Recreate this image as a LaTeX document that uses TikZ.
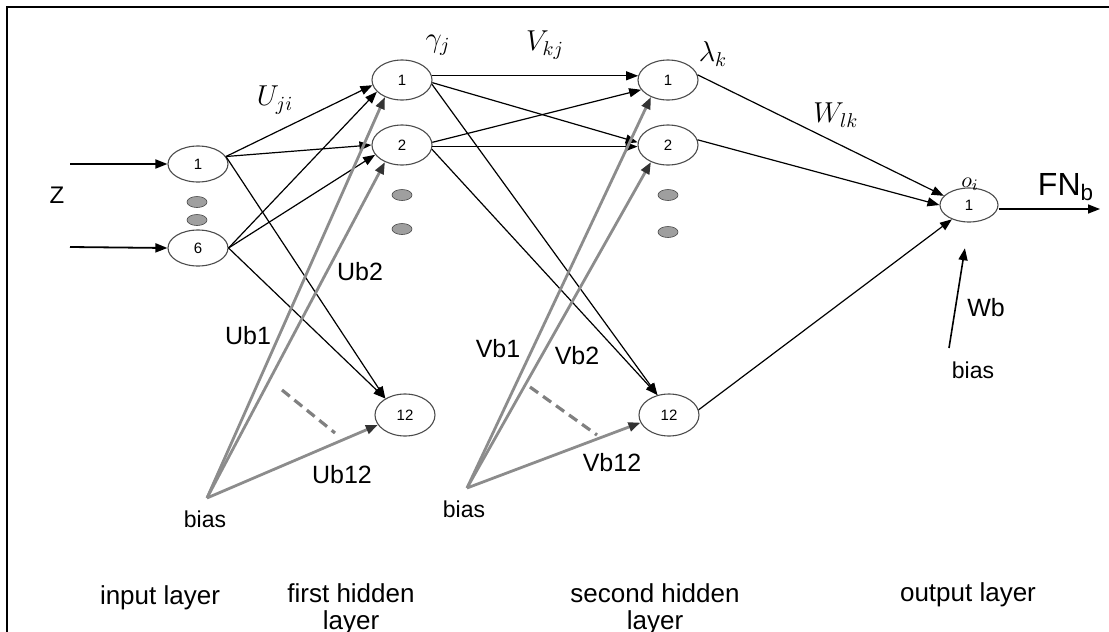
\documentclass[tikz,border=0pt]{standalone}
\usepackage{fontspec}
\setmainfont{Liberation Sans}
\usetikzlibrary{arrows.meta,shapes.geometric,positioning}

\tikzset{
  neuron/.style={ellipse,draw=black!70,line width=0.55pt,minimum width=30pt,minimum height=19pt,inner sep=0pt,font=\fontsize{7.5}{8}\selectfont},
  gapdot/.style={ellipse,fill=gray!75,draw=gray!55!black,line width=0.3pt,minimum width=10pt,minimum height=5.5pt,inner sep=0pt},
  wire/.style={line width=0.6pt,-{Triangle[length=6pt,width=4.5pt]}},
  biaswire/.style={draw=black!45,line width=1.4pt,-{Triangle[length=6pt,width=4.5pt,color=black!80]}},
  blabel/.style={font=\fontsize{12.5}{14}\selectfont},
  layname/.style={font=\fontsize{13}{13.5}\selectfont,align=center},
  sym/.style={font=\fontsize{14}{16}\selectfont}
}

\begin{document}
\begin{tikzpicture}[x=0.5pt,y=-0.5pt]
  \useasboundingbox (0,0) rectangle (1109,632);
  \clip (0,0) rectangle (1109,632);
  \draw[line width=1pt] (7,7) rectangle (1120,645);

  % neurons
  \node[neuron,minimum height=18pt] (in1) at (198,164) {1};
  \node[neuron,minimum height=18pt] (in6) at (198,248) {6};
  \node[neuron,minimum height=20pt] (h1) at (402,80) {1};
  \node[neuron,minimum height=20pt] (h2) at (402,145) {2};
  \node[neuron,minimum height=21pt] (h12) at (405,415) {12};
  \node[neuron,minimum height=20pt] (s1) at (668,80) {1};
  \node[neuron,minimum height=20pt] (s2) at (668,145) {2};
  \node[neuron,minimum height=21pt] (s12) at (669,415) {12};
  \node[neuron,minimum width=29pt,minimum height=17pt] (out) at (969,205) {1};

  % dots between neurons
  \node[gapdot] (din1) at (197,202) {};
  \node[gapdot] (din2) at (197,220) {};
  \node[gapdot] (dh1) at (402,195) {};
  \node[gapdot] (dh2) at (402,229) {};
  \node[gapdot] (ds1) at (668,195) {};
  \node[gapdot] (ds2) at (668,232) {};

  % inputs
  \coordinate (zin1) at (70,164);
  \coordinate (zin6) at (70,247);
  \node[font=\fontsize{12}{14}\selectfont] (zlab) at (57,195) {Z};
  \draw[wire,line width=0.9pt] (zin1) -- (in1.west);
  \draw[wire,line width=0.9pt] (zin6) -- (in6.west);

  % input -> first hidden
  \draw[wire] (in1.15) -- (h1.190);
  \draw[wire] (in1.15) -- (h2.180);
  \draw[wire] (in1.15) -- (h12.140);
  \draw[wire] (in6.east) -- (h1.205);
  \draw[wire] (in6.east) -- (h2.200);
  \draw[wire] (in6.east) -- (h12.140);

  % first hidden -> second hidden
  \draw[wire] (h1.8) -- (s1.172);
  \draw[wire] (h1.-5) -- (s2.175);
  \draw[wire] (h1.-8) -- (s12.120);
  \draw[wire] (h2.5) -- (s1.200);
  \draw[wire] (h2.-3) -- (s2.183);
  \draw[wire] (h2.-8) -- (s12.120);

  % second hidden -> output
  \draw[wire] (s1.10) -- (out.160);
  \draw[wire] (s2.10) -- (out.180);
  \draw[wire] (s12.10) -- (out.220);

  % output
  \coordinate (fn) at (1100,209);
  \draw[wire,line width=0.8pt] (out.east |- fn) -- (fn);
  \node[font=\fontsize{16}{18}\selectfont] (fnlab) at (1066,187) {FN\textsubscript{b}};

  % biases
  \coordinate (ba) at (207,498);
  \coordinate (bb) at (467,488);
  \coordinate (bc) at (949,348);
  \node[font=\fontsize{11.5}{13}\selectfont] (biasA) at (205,519) {bias};
  \node[font=\fontsize{11.5}{13}\selectfont] (biasB) at (464,509) {bias};
  \node[font=\fontsize{11.5}{13}\selectfont] (biasC) at (973,370) {bias};
  \draw[biaswire] (ba) -- (h1.225);
  \draw[biaswire] (ba) -- (h2.225);
  \draw[biaswire] (ba) -- (h12.200);
  \draw[biaswire] (bb) -- (s1.225);
  \draw[biaswire] (bb) -- (s2.225);
  \draw[biaswire] (bb) -- (s12.195);
  \draw[wire,line width=0.8pt,shorten >=13pt] (bc) -- (out.south);

  % skipped bias links
  \coordinate (ua) at (282,390); \coordinate (ub) at (335,433);
  \coordinate (va) at (530,387); \coordinate (vb) at (597,435);
  \draw[black!50,line width=1.6pt,dash pattern=on 5pt off 3pt] (ua) -- (ub);
  \draw[black!50,line width=1.6pt,dash pattern=on 5pt off 3pt] (va) -- (vb);

  % weight labels
  \node[sym] (uji) at (275,100) {$U_{ji}$};
  \node[sym] (gam) at (438,45) {$\gamma_j$};
  \node[sym] (vkj) at (545,45) {$V_{kj}$};
  \node[sym] (lam) at (713,54) {$\lambda_k$};
  \node[sym] (wlk) at (836,115) {$W_{lk}$};
  \node[font=\fontsize{11}{12}\selectfont] (oi) at (970,184) {$o_i$};
  \node[blabel] (ub1) at (248,336) {Ub1};
  \node[blabel] (ub2) at (360,272) {Ub2};
  \node[blabel] (ub12) at (342,475) {Ub12};
  \node[blabel] (vb1) at (498,349) {Vb1};
  \node[blabel] (vb2) at (577,356) {Vb2};
  \node[blabel] (vb12) at (612,463) {Vb12};
  \node[blabel] (wb) at (986,308) {Wb};

  % layer names
  \node[layname] (lin) at (160,598) {input layer};
  \node[layname] (lh1) at (351,609) {first hidden\\layer};
  \node[layname] (lh2) at (655,609) {second hidden\\layer};
  \node[layname] (lout) at (968,595) {output layer};
\end{tikzpicture}
\end{document}
